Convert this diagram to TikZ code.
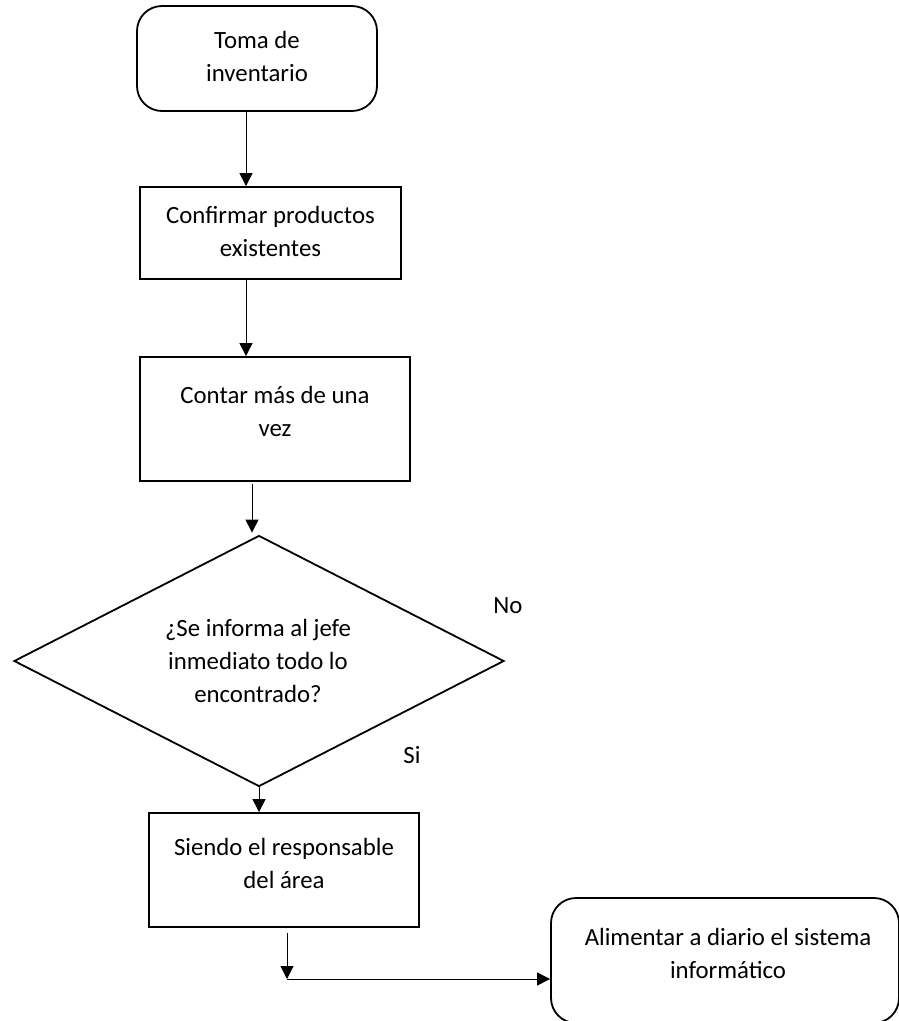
\documentclass[tikz,border=0pt]{standalone}
\usepackage{fontspec}
\setmainfont{Carlito}
\usetikzlibrary{shapes.geometric,arrows.meta}
\begin{document}
\begin{tikzpicture}[x=1pt,y=-1pt,
  font=\fontsize{24.8pt}{33pt}\selectfont,
  box/.style={draw,line width=1.8pt,rectangle,inner sep=0pt},
  rbox/.style={box,rounded corners=25pt},
  dec/.style={draw,line width=1.8pt,diamond,aspect=2,inner sep=0pt},
  txt/.style={align=center,inner sep=0pt},
  arr/.style={line width=1pt,-{Triangle[width=13pt,length=13pt]}},
  lbl/.style={inner sep=0pt}]
\useasboundingbox (0,0) rectangle (898,1021);
\node[rbox,minimum width=240pt,minimum height=105pt] (n1) at (257,58.5) {};
\node[txt] (n1t) at (257,56) {Toma de\\inventario};
\node[box,minimum width=261pt,minimum height=92pt] (n2) at (270.5,233) {};
\node[txt] (n2t) at (270.5,231) {Confirmar productos\\existentes};
\node[box,minimum width=270pt,minimum height=124pt] (n3) at (275,419) {};
\node[txt] (n3t) at (275,411.5) {Contar más de una\\vez};
\node[dec,minimum width=490pt,minimum height=251pt] (d1) at (259,661) {};
\node[txt] (d1t) at (258,660.5) {¿Se informa al jefe\\inmediato todo lo\\encontrado?};
\node[box,minimum width=270pt,minimum height=114pt] (n4) at (284,870) {};
\node[txt] (n4t) at (284,863.5) {Siendo el responsable\\del área};
\node[rbox,minimum width=348pt,minimum height=125pt] (n5) at (725,960.5) {};
\node[txt] (n5t) at (728,953) {Alimentar a diario el sistema\\informático};
\node[lbl] (no) at (508,606) {No};
\node[lbl] (si) at (412,755) {Si};
\coordinate (c1) at (246,0);
\coordinate (c3) at (252,0);
\coordinate (c4) at (259,0);
\coordinate (c5) at (287,979);
\draw[arr] (n1.south -| c1) -- (n2.north -| c1);
\draw[arr] (n2.south -| c1) -- (n3.north -| c1);
\draw[arr] ([yshift=-2pt]n3.south -| c3) -- ([yshift=2pt]d1.north -| c3);
\draw[arr] (d1.south -| c4) -- (n4.north -| c4);
\draw[arr] ([yshift=-5pt]n4.south -| c5) -- (c5);
\draw[arr] (c5) -- (n5.west |- c5);
\end{tikzpicture}
\end{document}
